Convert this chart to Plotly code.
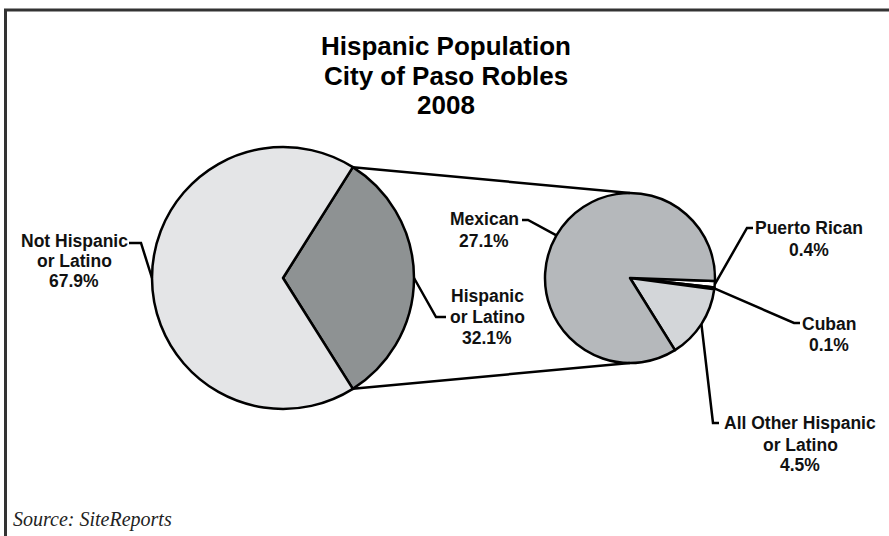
import math
import plotly.graph_objects as go

W, H = 889, 536

# ---------------- data ----------------
title_lines = ["Hispanic Population", "City of Paso Robles", "2008"]
main_labels = ["Hispanic or Latino", "Not Hispanic or Latino"]
main_values = [32.1, 67.9]
sub_labels = ["Puerto Rican", "Cuban", "All Other Hispanic or Latino", "Mexican"]
sub_values = [0.4, 0.1, 4.5, 27.1]
source_text = "Source: SiteReports"

# label text lines (display)
main_label_lines = [["Hispanic", "or Latino", "32.1%"], ["Not Hispanic", "or Latino", "67.9%"]]
sub_label_lines = [["Puerto Rican", "0.4%"], ["Cuban", "0.1%"],
                   ["All Other Hispanic", "or Latino", "4.5%"], ["Mexican", "27.1%"]]

# ---------------- style / layout ----------------
main_colors = ["#8e9293", "#e4e5e7"]
sub_colors = ["#ffffff", "#444444", "#d3d6d9", "#b5b8bb"]
C1, R1 = (283, 278), 131
C2, R2 = (630, 278), 85
ROT2 = 92
FONT = "Liberation Sans, Arial, sans-serif"

# label placement: (text center x, [line y...], elbow point, end point)
main_label_pos = [
    (487, [296, 317, 338], (436, 317), (446, 317)),
    (74, [241, 261, 281], (141, 243), (129, 243)),
]
sub_label_pos = [
    (809, [228, 250], (747, 228), (753, 228)),
    (829, [324, 345], (794, 323), (800, 323)),
    (800, [423, 445, 465], (713, 423), (719, 423)),
    (484, [219, 241], (528, 220), (522, 220)),
]


def fx(x):
    return x / W


def fy(y):
    return 1 - y / H


def domain(c, r):
    return dict(x=[fx(c[0] - r), fx(c[0] + r)], y=[fy(c[1] + r), fy(c[1] - r)])


def mid_points(values, rot, c, r):
    tot = sum(values)
    pts, cum = [], 0
    for v in values:
        th = math.radians(rot + 360 * (cum + v / 2) / tot)
        pts.append((c[0] + r * math.sin(th), c[1] - r * math.cos(th)))
        cum += v
    return pts


ROT1 = 90 - 0.5 * 360 * main_values[0] / sum(main_values)

fig = go.Figure()
fig.add_trace(go.Pie(
    labels=main_labels, values=main_values, sort=False, direction="clockwise",
    rotation=ROT1, domain=domain(C1, R1), textinfo="none",
    marker=dict(colors=main_colors, line=dict(color="black", width=2.5)),
    showlegend=False,
))
fig.add_trace(go.Pie(
    labels=sub_labels, values=sub_values, sort=False, direction="clockwise",
    rotation=ROT2, domain=domain(C2, R2), textinfo="none",
    marker=dict(colors=sub_colors, line=dict(color="black", width=2.5)),
    showlegend=False,
))

shapes = []
# border
shapes.append(dict(type="rect", xref="paper", yref="paper",
                   x0=fx(5.5), y0=fy(10), x1=1.02, y1=-0.02,
                   line=dict(color="#333333", width=3), fillcolor="rgba(0,0,0,0)"))

# connector lines between pies
half = math.radians(0.5 * 360 * main_values[0] / sum(main_values))
top1 = (C1[0] + R1 * math.cos(half), C1[1] - R1 * math.sin(half))
bot1 = (C1[0] + R1 * math.cos(half), C1[1] + R1 * math.sin(half))
top2 = (C2[0], C2[1] - R2)
bot2 = (C2[0], C2[1] + R2)
for a, b in [(top1, top2), (bot1, bot2)]:
    shapes.append(dict(type="line", xref="paper", yref="paper",
                       x0=fx(a[0]), y0=fy(a[1]), x1=fx(b[0]), y1=fy(b[1]),
                       line=dict(color="black", width=2.5)))


def leader(anchor, elbow, end):
    p = "M {} {} L {} {} L {} {}".format(fx(anchor[0]), fy(anchor[1]),
                                         fx(elbow[0]), fy(elbow[1]),
                                         fx(end[0]), fy(end[1]))
    return dict(type="path", xref="paper", yref="paper", path=p,
                line=dict(color="black", width=2.5))


annotations = []


def add_label(lines, pos):
    cx, ys, _, _ = pos
    for t, y in zip(lines, ys):
        annotations.append(dict(x=fx(cx), y=fy(y), xref="paper", yref="paper",
                                text=t, showarrow=False, xanchor="center", yanchor="middle",
                                font=dict(family=FONT, size=17.5, color="#111111", weight="bold")))


for lines, pos, anc in zip(main_label_lines, main_label_pos,
                           mid_points(main_values, ROT1, C1, R1)):
    shapes.append(leader(anc, pos[2], pos[3]))
    add_label(lines, pos)

for lines, pos, anc in zip(sub_label_lines, sub_label_pos,
                           mid_points(sub_values, ROT2, C2, R2)):
    shapes.append(leader(anc, pos[2], pos[3]))
    add_label(lines, pos)

# title
for t, y in zip(title_lines, [46, 76, 105]):
    annotations.append(dict(x=fx(446), y=fy(y), xref="paper", yref="paper", text=t,
                            showarrow=False, xanchor="center", yanchor="middle",
                            font=dict(family=FONT, size=26, color="black", weight="bold")))

# source
annotations.append(dict(x=fx(11), y=fy(519), xref="paper", yref="paper",
                        text="<i>" + source_text + "</i>", showarrow=False,
                        xanchor="left", yanchor="middle",
                        font=dict(family="Liberation Serif, Times New Roman, serif",
                                  size=20, color="#222222")))

fig.update_layout(
    width=W, height=H, margin=dict(l=0, r=0, t=0, b=0),
    paper_bgcolor="white", plot_bgcolor="white",
    shapes=shapes, annotations=annotations, showlegend=False,
)

fig.write_html("out.html", config={"displayModeBar": False},
               post_script="document.body.style.margin='0';"
                           "document.body.style.overflow='hidden';")
